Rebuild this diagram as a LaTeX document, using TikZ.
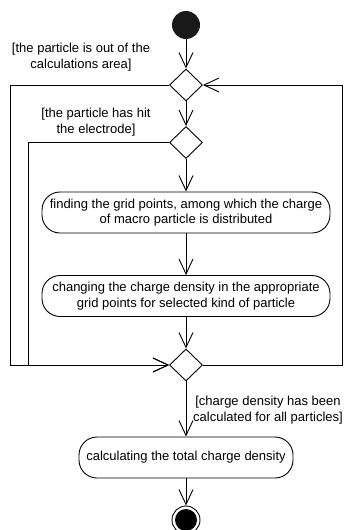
\documentclass[tikz,border=0pt]{standalone}
\usepackage{fontspec}
\setmainfont{Liberation Sans}
\usetikzlibrary{shapes.geometric,arrows.meta}

\newcommand\umlfont{\fontsize{13}{15.5}\selectfont}

\begin{document}
\begin{tikzpicture}[x=1pt,y=-1pt,line width=0.9pt,
  act/.style={draw,rectangle,rounded corners=18pt,minimum height=41pt,inner sep=0pt,align=center,font=\umlfont},
  merge/.style={draw,diamond,aspect=1,minimum width=33pt,minimum height=32pt,inner sep=0pt},
  guard/.style={align=center,font=\umlfont,inner sep=0pt},
  initial/.style={circle,fill=black!90,minimum size=28pt,inner sep=0pt},
  final/.style={circle,draw,minimum size=28pt,inner sep=0pt},
  flow/.style={-{Straight Barb[length=15pt,width=14pt]}}]
  \useasboundingbox (0,0) rectangle (344,530);

  % nodes
  \node[initial] (start) at (186,25) {};
  \node[merge] (d1) at (186,85) {};
  \node[merge] (d2) at (186,142.5) {};
  \node[act,minimum width=288pt] (a1) at (186,212.5) {finding the grid points, among which the charge\\of macro particle is distributed};
  \node[act,minimum width=288pt] (a2) at (186,296) {changing the charge density in the appropriate\\grid points for selected kind of particle};
  \node[merge] (d3) at (186,365) {};
  \node[act,minimum width=214pt] (a3) at (186,457.5) {calculating the total charge density};
  \node[final] (end) at (186,520) {};
  \fill (end.center) circle (11pt);

  % guards
  \node[guard] (g1) at (81,57) {[the particle is out of the\\calculations area]};
  \node[guard] (g2) at (96,122) {[the particle has hit\\the electrode]};
  \node[guard] (g3) at (268,410) {[charge density has been\\calculated for all particles]};

  % main flow
  \draw[flow] (start) -- (d1);
  \draw[flow] (d1) -- (d2);
  \draw[flow] (d2) -- (a1);
  \draw[flow] (a1) -- (a2);
  \draw[flow] (a2) -- (d3);
  \draw[flow] (d3) -- (a3);
  \draw[flow] (a3) -- (end);

  % loops
  \coordinate (outL) at (10,85);
  \coordinate (inL) at (28,142.5);
  \coordinate (outR) at (342.5,85);
  \draw[flow] (d1.west) -- (outL) |- (d3.west);
  \draw[flow] (d2.west) -- (inL) |- (d3.west);
  \draw[flow] (d3.east) -| (outR) -- (d1.east);
\end{tikzpicture}
\end{document}
